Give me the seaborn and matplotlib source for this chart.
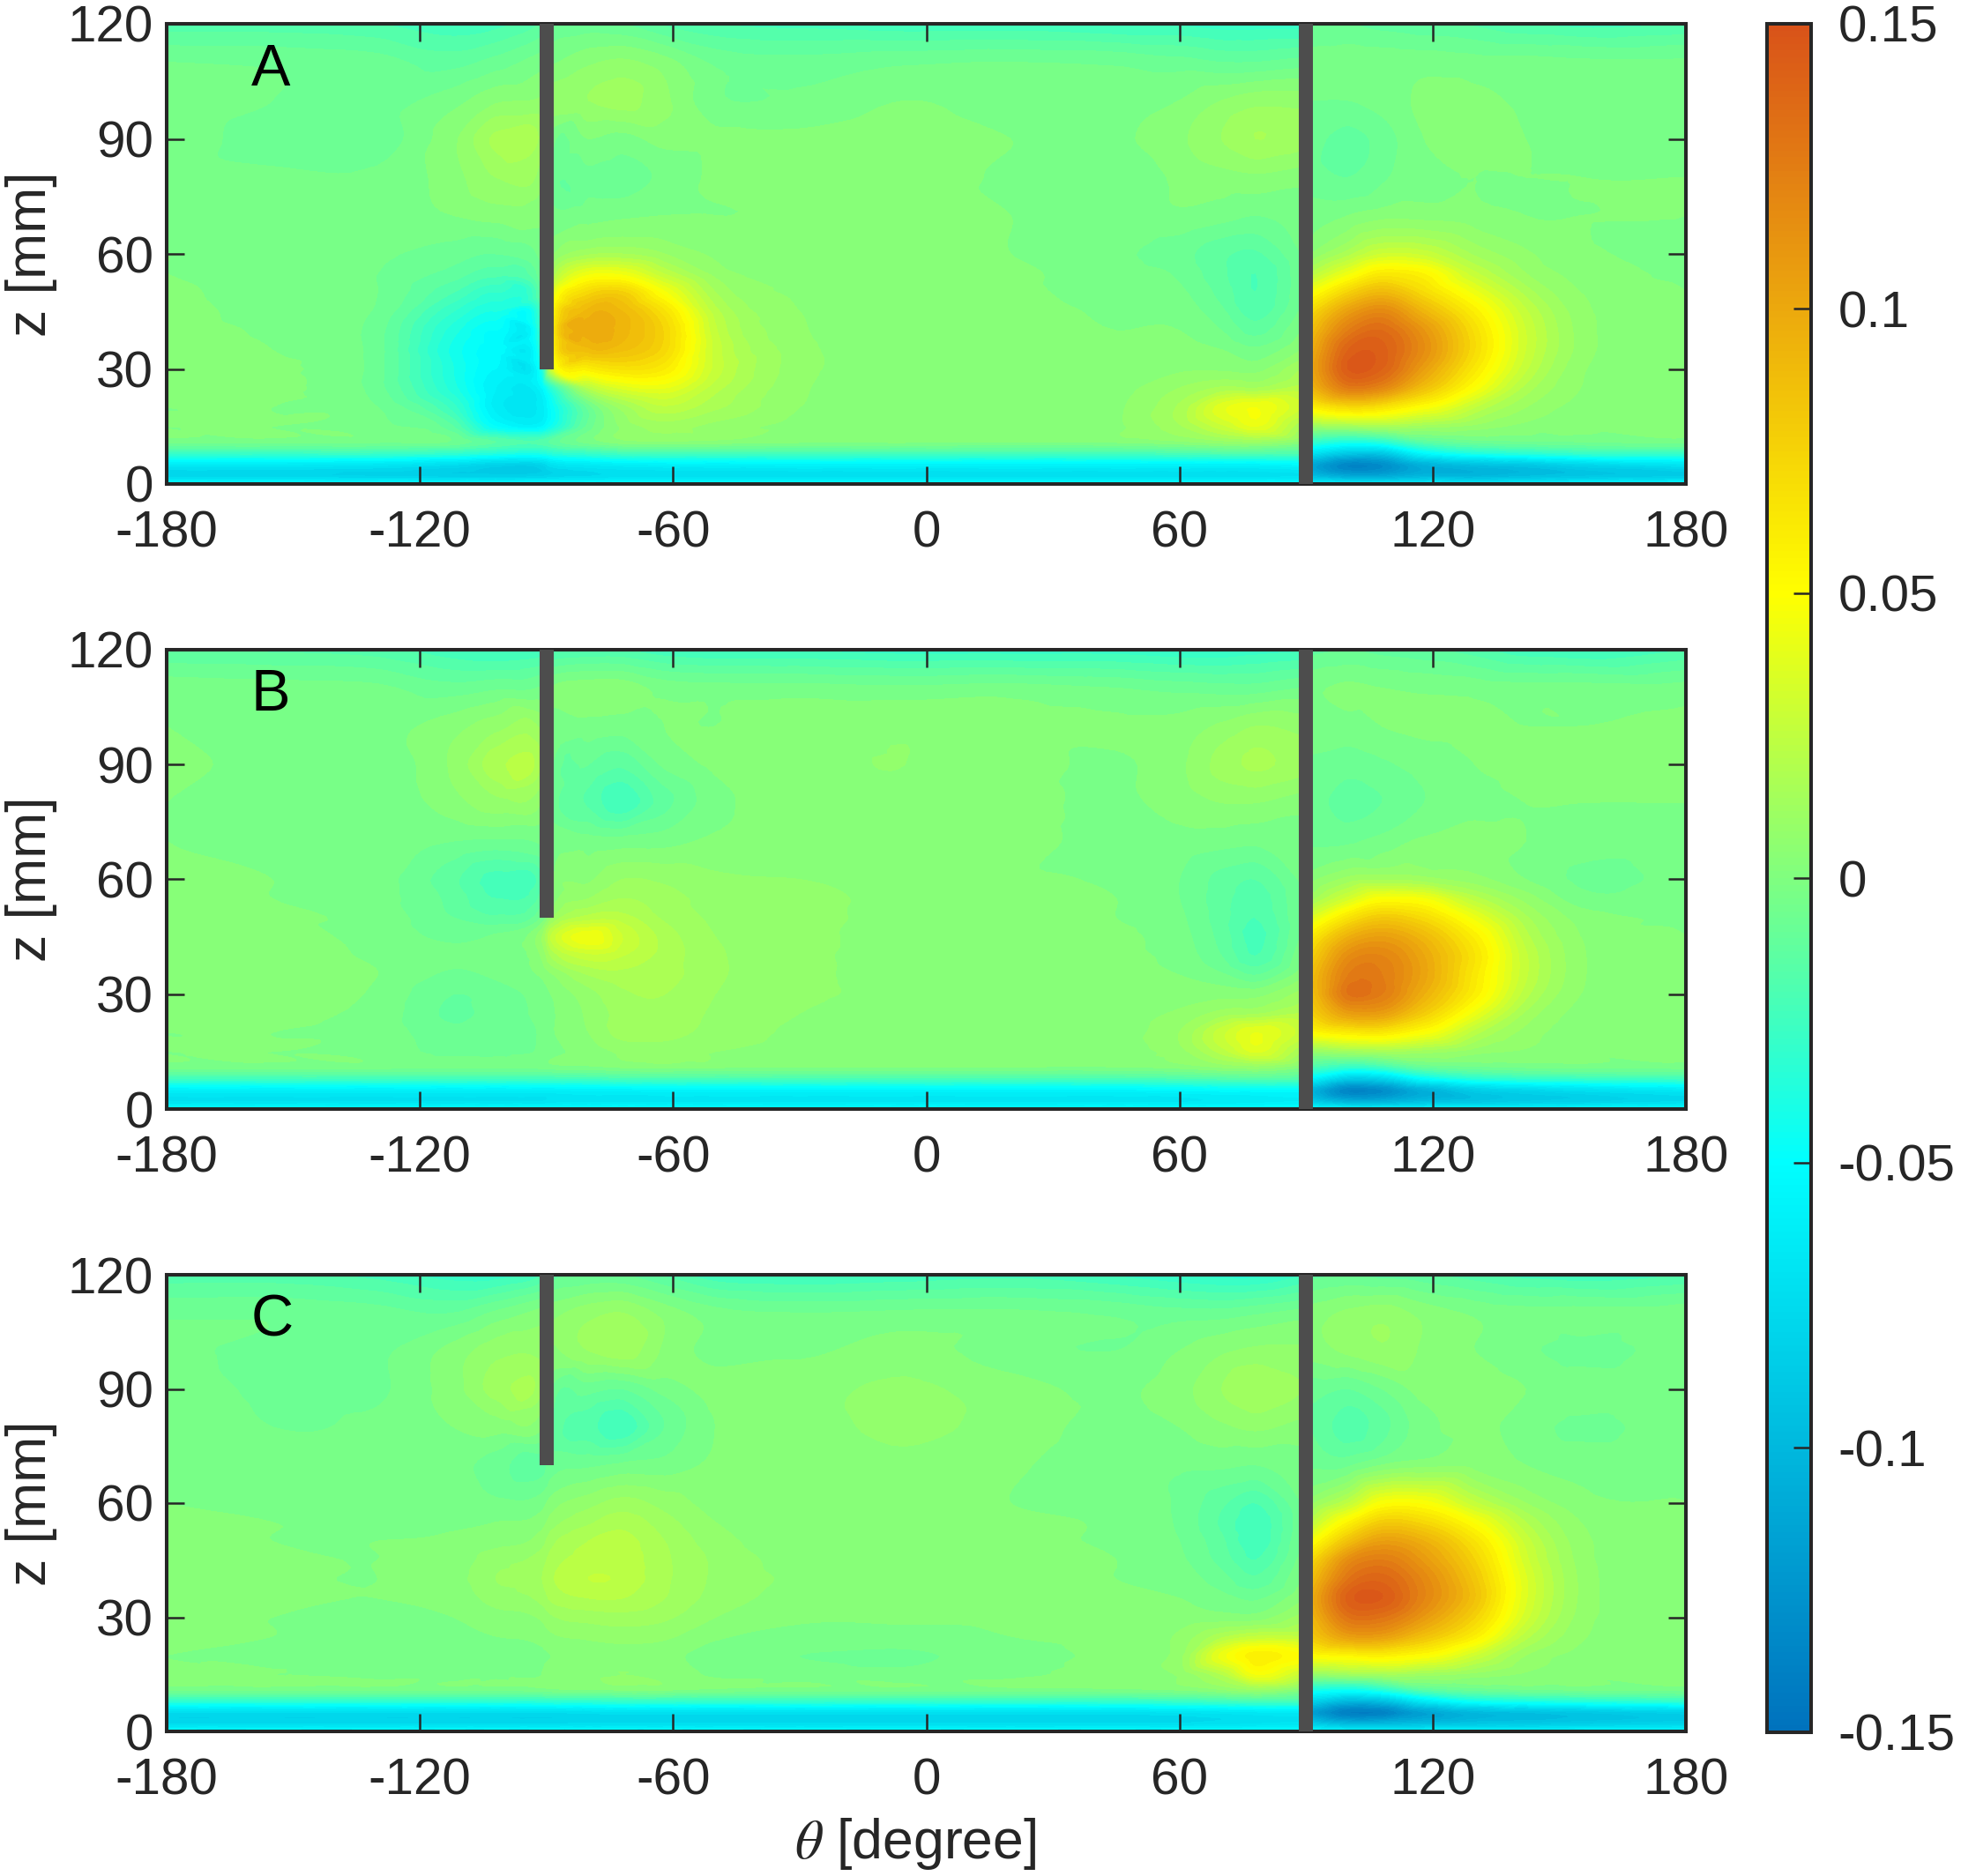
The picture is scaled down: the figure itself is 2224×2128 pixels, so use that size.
import numpy as np
import pandas as pd
import seaborn as sns
import matplotlib.pyplot as plt
from matplotlib.cm import ScalarMappable
from matplotlib.colors import Normalize
from matplotlib.tri import CubicTriInterpolator, Triangulation, UniformTriRefiner

# Grid of the fields (values below are in 0.001 units)
theta_nodes = [-180, -155, -130, -112, -102, -91, -89, -80, -72, -62, -50, -30, -5, 20, 45, 60, 70, 78, 89,
               91, 100, 108, 118, 130, 142, 155, 180]
z_nodes = [120, 110, 100, 90, 80, 70, 60, 55, 50, 45, 40, 35, 30, 25, 20, 15, 11, 8, 5, 2, 0]

field_a = [
    [-18, -18, -20, -24, -22, -14, -10, -8, -10, -16, -20, -22, -24, -24, -26, -26, -28, -28, -28, -10, -10, -12, -14, -16, -20, -22, -20],
    [-5, -6, -8, -12, -8, -2, -1, 4, 6, 2, -6, -8, -6, -5, -6, -8, -10, -10, -8, -3, -2, -2, -2, -3, -3, -4, -4],
    [-2, -5, -7, -2, 4, 6, 8, 10, 12, 6, -4, -4, 0, -3, -3, 0, 5, 8, 8, -5, -5, -3, 1, 1, -1, -4, -3],
    [-2, -7, -8, 4, 16, 12, -2, 0, -2, 2, 1, 1, 3, 0, -1, 4, 10, 15, 12, -8, -12, -8, 0, 2, 0, -2, -1],
    [-3, -4, -4, 3, 10, 6, -6, -6, -7, -4, 1, 1, 3, -1, -4, 1, 3, 4, 2, -8, -10, -6, -1, 0, 0, 0, 0],
    [-2, -1, -2, 0, 2, 1, -3, -2, -1, 0, 0, 1, 2, 0, -2, -1, -3, -5, -3, -2, 0, 3, 3, 2, 0, 0, 0],
    [0, -2, -4, -8, -10, -3, 3, 14, 15, 10, 4, 2, 2, 0, -4, -8, -14, -16, -5, 5, 18, 30, 28, 14, 6, 1, -1],
    [0, -2, -5, -12, -18, -5, 12, 42, 42, 24, 8, 3, 2, 1, -3, -6, -14, -20, -6, 20, 42, 60, 54, 26, 10, 3, -1],
    [1, -2, -5, -20, -30, -8, 30, 72, 76, 46, 15, 4, 3, 1, -2, -4, -12, -20, -6, 45, 75, 90, 70, 42, 18, 5, 0],
    [2, -2, -6, -30, -40, -18, 44, 92, 90, 66, 22, 5, 3, 2, -1, -2, -9, -18, -4, 70, 105, 118, 92, 58, 26, 7, 0],
    [2, -1, -8, -38, -50, -22, 50, 97, 92, 74, 26, 6, 3, 2, 0, 0, -5, -12, 0, 85, 125, 135, 110, 68, 30, 8, 0],
    [2, 0, -8, -42, -52, -28, 44, 88, 86, 72, 28, 7, 4, 3, 1, 2, 0, -4, 5, 95, 140, 142, 115, 70, 30, 8, 0],
    [2, 1, -8, -40, -55, -38, 26, 58, 66, 60, 28, 7, 4, 3, 2, 4, 4, 3, 15, 100, 145, 140, 105, 62, 26, 6, 0],
    [1, 1, -8, -38, -60, -55, -35, 20, 36, 40, 22, 6, 3, 2, 3, 10, 16, 15, 22, 90, 125, 118, 85, 48, 18, 5, 0],
    [0, 0, -5, -28, -62, -62, -50, -8, 12, 24, 16, 5, 2, 2, 4, 16, 38, 45, 30, 55, 70, 65, 48, 25, 10, 3, 0],
    [0, 0, -4, -15, -50, -55, -45, -8, 6, 12, 8, 3, 2, 2, 4, 14, 28, 40, 15, 10, 12, 15, 12, 8, 3, 1, 0],
    [-3, -3, -4, -6, -15, -18, -14, -3, 3, 4, 3, 1, 1, 0, 1, 4, 8, 10, 3, -30, -40, -35, -15, -8, -6, -5, -3],
    [-28, -28, -28, -32, -38, -40, -36, -30, -25, -24, -24, -24, -24, -24, -24, -22, -20, -20, -20, -70, -90, -90, -55, -40, -35, -30, -28],
    [-65, -65, -68, -75, -82, -80, -72, -65, -62, -60, -60, -58, -58, -58, -58, -58, -58, -58, -55, -110, -135, -130, -105, -95, -90, -80, -70],
    [-78, -78, -80, -82, -82, -80, -78, -75, -72, -72, -72, -72, -72, -72, -72, -72, -72, -72, -70, -95, -110, -110, -100, -100, -95, -90, -85],
    [-48, -48, -48, -48, -48, -48, -48, -48, -48, -48, -48, -48, -48, -48, -48, -48, -48, -48, -48, -55, -60, -60, -60, -60, -60, -55, -50],
]

field_b = [
    [-15, -16, -18, -24, -26, -24, -22, -20, -20, -24, -26, -26, -28, -28, -28, -30, -30, -28, -26, -12, -10, -12, -14, -18, -24, -26, -20],
    [-2, -3, -4, -8, -6, -4, 0, 3, 3, -2, -3, -3, -4, -3, -5, -7, -8, -8, -5, -1, 1, 0, -1, -2, -3, -3, -3],
    [0, -2, -2, 3, 8, 8, -1, -2, -3, 0, 0, 3, 4, 2, 1, 2, 6, 10, 8, -2, -2, 0, 1, 1, 0, 0, 1],
    [3, -3, -4, 6, 18, 14, -3, -10, -14, -4, 1, 4, 5, 3, -1, 4, 12, 16, 12, -6, -8, -6, -3, 0, 1, 1, 2],
    [0, -3, -4, 3, 8, 4, -6, -16, -24, -12, -2, 3, 4, 2, -1, 2, 5, 5, 2, -8, -12, -10, -5, -1, 0, 0, 0],
    [0, -2, -3, -5, -6, -4, -2, -3, -3, -2, 1, 3, 3, 2, -2, -2, -3, -4, -2, -6, -6, -3, 1, 2, 0, -2, -1],
    [1, 0, -3, -14, -22, -16, -2, 4, 10, 9, 6, 5, 4, 1, -1, -5, -12, -15, -4, 3, 12, 14, 12, 7, 0, -6, -3],
    [1, 0, -3, -12, -20, -12, 0, 10, 15, 12, 8, 6, 4, 2, 0, -5, -13, -18, -5, 12, 32, 48, 45, 22, 8, -3, -2],
    [3, 1, -2, -10, -14, -4, 8, 22, 22, 14, 9, 6, 4, 2, 0, -4, -13, -20, -5, 35, 65, 80, 70, 42, 16, 3, -1],
    [3, 2, -2, -6, -4, 10, 25, 44, 30, 18, 10, 6, 4, 2, 1, -3, -12, -22, -4, 60, 95, 105, 90, 58, 22, 5, 0],
    [3, 3, -1, -4, -3, 6, 15, 28, 25, 18, 11, 6, 4, 3, 1, -2, -10, -20, -1, 75, 115, 120, 100, 65, 26, 6, 0],
    [3, 4, 0, -6, -4, 1, 4, 15, 18, 17, 11, 6, 4, 3, 2, 0, -4, -10, 3, 85, 125, 125, 102, 62, 26, 6, 0],
    [2, 3, -1, -10, -8, -2, 0, 8, 14, 15, 10, 6, 4, 3, 3, 2, 3, 3, 12, 85, 130, 125, 95, 58, 22, 5, 0],
    [1, 1, -2, -11, -8, -3, -1, 6, 12, 14, 9, 5, 3, 3, 3, 6, 12, 14, 20, 75, 105, 105, 78, 42, 14, 3, 0],
    [0, 0, -2, -9, -8, -4, -1, 5, 12, 12, 8, 4, 3, 3, 3, 10, 28, 40, 28, 50, 60, 62, 48, 22, 8, 2, 0],
    [0, 0, -2, -7, -7, -4, -2, 2, 6, 7, 5, 3, 2, 2, 3, 8, 22, 36, 15, 8, 12, 14, 12, 7, 4, 1, 0],
    [-3, -3, -3, -4, -4, -3, -2, -1, 1, 2, 1, 0, 0, 0, 0, 2, 6, 8, 1, -20, -30, -25, -10, -6, -4, -3, -3],
    [-25, -25, -25, -25, -25, -25, -25, -24, -22, -22, -22, -22, -22, -22, -22, -20, -18, -16, -18, -55, -85, -80, -50, -35, -30, -28, -25],
    [-60, -60, -60, -60, -60, -60, -60, -58, -58, -56, -56, -56, -56, -56, -56, -54, -52, -52, -52, -100, -135, -130, -105, -85, -78, -72, -65],
    [-70, -70, -70, -70, -70, -70, -68, -66, -66, -66, -66, -66, -66, -66, -66, -66, -64, -62, -60, -85, -105, -105, -95, -90, -85, -82, -75],
    [-48, -48, -48, -48, -48, -48, -48, -48, -48, -48, -48, -48, -48, -48, -48, -48, -48, -48, -48, -50, -55, -55, -55, -55, -55, -52, -50],
]

field_c = [
    [-18, -18, -22, -28, -28, -20, -14, -10, -10, -16, -24, -26, -24, -22, -26, -30, -32, -32, -26, -12, -10, -12, -14, -18, -22, -24, -20],
    [-6, -6, -8, -10, -4, 2, 3, 8, 10, 3, -3, -5, -4, -4, -6, -8, -8, -6, -3, 2, 6, 8, 3, -1, -3, -3, -2],
    [-4, -6, -6, 2, 8, 8, 5, 10, 13, 4, -2, -1, 2, -3, -5, 0, 4, 6, 6, 2, 6, 9, 4, 0, -4, -7, -2],
    [-2, -6, -6, 3, 12, 10, -5, -8, -10, -3, 2, 3, 6, 2, -1, 3, 10, 15, 10, -8, -10, -5, 2, 3, 0, -2, 0],
    [-1, -5, -4, 0, 2, 0, -10, -18, -24, -10, 0, 3, 6, 3, -2, 0, 4, 6, 3, -10, -18, -12, -2, 2, -3, -6, -2],
    [-1, -3, -3, -3, -8, -12, -8, -6, -4, -3, 1, 3, 4, 1, -4, -4, -4, -5, -2, -6, -6, 0, 3, 3, 0, -2, -1],
    [0, -1, -2, -3, -4, -2, 2, 8, 12, 8, 3, 3, 3, 0, -2, -6, -14, -20, -5, 8, 25, 48, 48, 26, 10, 2, 0],
    [1, 0, -1, -1, 0, 3, 7, 14, 18, 12, 5, 3, 3, 1, -1, -6, -16, -24, -6, 22, 55, 78, 72, 48, 20, 5, 0],
    [2, 0, 0, 1, 3, 8, 13, 20, 22, 15, 7, 3, 3, 1, -1, -5, -14, -24, -5, 45, 85, 105, 95, 65, 28, 7, 0],
    [3, 1, 0, 2, 8, 13, 17, 22, 23, 16, 9, 3, 3, 2, 0, -4, -12, -20, -3, 70, 115, 125, 108, 75, 32, 8, 0],
    [3, 1, 0, 3, 10, 15, 19, 25, 24, 16, 9, 4, 3, 2, 0, -2, -8, -14, 0, 85, 130, 138, 118, 82, 36, 9, 0],
    [2, 1, 0, 2, 7, 12, 16, 20, 20, 15, 8, 3, 2, 2, 1, 0, -3, -6, 4, 95, 142, 145, 120, 85, 36, 9, 0],
    [1, 0, -1, 0, 3, 6, 9, 12, 13, 11, 5, 1, 1, 1, 2, 2, 2, 2, 12, 90, 130, 130, 108, 75, 32, 8, 0],
    [1, 0, -1, -1, 0, 2, 4, 6, 7, 6, 1, -2, -2, 0, 2, 6, 18, 25, 25, 80, 105, 105, 85, 58, 22, 6, 0],
    [0, -1, -2, -4, -3, -1, 0, 2, 3, 2, -3, -5, -6, -2, 2, 8, 42, 58, 50, 50, 55, 58, 50, 30, 10, 3, 0],
    [0, 0, -1, -2, -1, 0, 2, 4, 5, 3, -1, -3, -4, -1, 2, 6, 20, 45, 28, 8, 12, 14, 12, 8, 4, 1, 0],
    [-3, -3, -3, -3, -3, -2, -1, 0, 1, 1, -1, -2, -2, -2, -1, 1, 5, 10, 2, -40, -45, -35, -15, -8, -5, -4, -3],
    [-33, -33, -33, -33, -33, -33, -32, -32, -30, -30, -30, -30, -30, -30, -30, -28, -25, -22, -22, -80, -100, -95, -65, -45, -40, -36, -30],
    [-75, -75, -75, -75, -75, -75, -75, -73, -72, -72, -72, -72, -72, -72, -72, -70, -68, -66, -65, -115, -140, -138, -115, -100, -95, -90, -82],
    [-75, -75, -75, -75, -75, -75, -75, -74, -74, -74, -74, -74, -74, -74, -74, -74, -72, -70, -68, -85, -100, -100, -95, -90, -88, -85, -80],
    [-48, -48, -48, -48, -48, -48, -48, -48, -48, -48, -48, -48, -48, -48, -48, -48, -48, -48, -48, -50, -55, -55, -55, -55, -55, -52, -50],
]

panel_names = ["A", "B", "C"]
wall_ends = [30, 50, 70]  # lower end of the wall at -90 in each panel
wall_thetas = [-90, 90]
theta_ticks = [-180, -120, -60, 0, 60, 120, 180]
z_ticks = [0, 30, 60, 90, 120]
cbar_ticks = [-0.15, -0.1, -0.05, 0, 0.05, 0.1, 0.15]
cbar_labels = ["-0.15", "-0.1", "-0.05", "0", "0.05", "0.1", "0.15"]

sns.set_theme(style="ticks", font="Liberation Sans")
dark = "#262626"
plt.rcParams.update({
    "font.size": 42,
    "axes.labelsize": 45,
    "xtick.labelsize": 42,
    "ytick.labelsize": 42,
    "axes.unicode_minus": False,
    "axes.axisbelow": False,
    "mathtext.fontset": "stix",
    "text.color": dark,
    "axes.labelcolor": dark,
    "axes.edgecolor": dark,
    "axes.linewidth": 2.9,
    "xtick.color": dark,
    "ytick.color": dark,
})

# -0.15 ... 0.15 in steps of 0.05
cmap = sns.blend_palette(["#0072BD", "#00B9DE", "#00FFFF", "#80FF80", "#FFFF00", "#ECA90D", "#D95319"],
                         n_colors=256, as_cmap=True)
norm = Normalize(-0.15, 0.15)
levels = np.linspace(-0.15, 0.15, 61)

W, H = 2224, 2128
fig = plt.figure(figsize=(W / 100, H / 100), dpi=100)


def px_axes(left, right, top, bottom):
    return fig.add_axes([left / W, 1 - bottom / H, (right - left) / W, (bottom - top) / H])


def draw_field(ax, df):
    # cubic display smoothing of the grid, the way a smooth shading would
    tt, zz = np.meshgrid(df.columns, df.index)
    tri = Triangulation(tt.ravel().astype(float), zz.ravel().astype(float))
    values = df.values.ravel()
    smooth = CubicTriInterpolator(tri, values, kind="geom")
    fine, fine_values = UniformTriRefiner(tri).refine_field(values, triinterpolator=smooth, subdiv=3)
    ax.tricontourf(fine, fine_values, levels=levels, cmap=cmap, norm=norm, extend="both")


boxes = [(27, 549), (737, 1258), (1446, 1964)]
fields = [field_a, field_b, field_c]

for name, wall_end, field, (top, bottom) in zip(panel_names, wall_ends, fields, boxes):
    ax = px_axes(189, 1912, top, bottom)
    df = pd.DataFrame(field, index=z_nodes, columns=theta_nodes).sort_index() * 0.001
    # the wall at 90 runs the full height, so the two sides are drawn apart
    draw_field(ax, df.loc[:, :89])
    draw_field(ax, df.loc[:, 91:])

    for t in wall_thetas:
        end = wall_end if t == wall_thetas[0] else 0
        ax.bar(t, 120 - end, bottom=end, width=3.4, color="#4d4d4d", linewidth=0, zorder=3)

    ax.set_xlim(-180, 180)
    ax.set_ylim(0, 120)
    ax.set_xticks(theta_ticks)
    ax.set_yticks(z_ticks)
    ax.tick_params(direction="in", length=14.4, width=1.8, top=True, right=True)
    ax.tick_params(axis="x", pad=21)
    ax.tick_params(axis="y", pad=11)
    ax.set_ylabel("z [mm]")
    ax.yaxis.set_label_coords(-0.072, 0.5)
    ax.text(-160, 104, name, fontsize=48, color="black", ha="left", va="baseline", zorder=4)
    sns.despine(ax=ax, top=False, right=False)

ax.set_xlabel(r"$\theta$ [degree]")
ax.xaxis.set_label_coords(0.493, -0.185)

cax = px_axes(2004, 2054, 27, 1965)
cb = fig.colorbar(ScalarMappable(norm=norm, cmap=cmap), cax=cax)
cb.set_ticks(cbar_ticks, labels=cbar_labels)
cb.ax.set_axisbelow(False)
cb.ax.tick_params(direction="in", length=14.4, width=1.8, pad=22, labelsize=42)
cb.outline.set_linewidth(2.9)
cb.outline.set_edgecolor(dark)

fig.savefig("out.png", dpi=100)
